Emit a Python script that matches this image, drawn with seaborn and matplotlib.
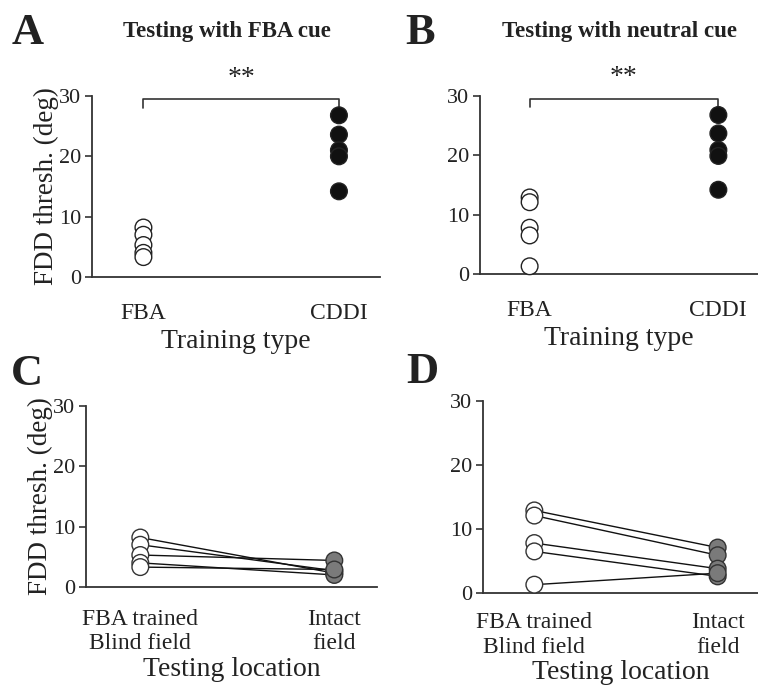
import matplotlib
matplotlib.use("Agg")
import matplotlib.pyplot as plt
import seaborn as sns
import pandas as pd

sns.set_theme(style="white")
plt.rcParams['font.family'] = ['Liberation Serif', 'DejaVu Serif']

# ---------------- data ----------------
training_types = ["FBA", "CDDI"]
locations = ["FBA trained\nBlind field", "Intact\nfield"]
subjects = ["S1", "S2", "S3", "S4", "S5"]

# Panel A: testing with FBA cue
a_fba = [8.2, 7.0, 5.3, 4.0, 3.3]
a_cddi = [26.8, 23.6, 21.0, 20.0, 14.2]
# Panel B: testing with neutral cue
b_fba = [12.9, 12.1, 7.8, 6.5, 1.3]
b_cddi = [26.8, 23.7, 20.9, 19.9, 14.2]
# Panel C: FBA cue, blind vs intact field (paired)
c_blind = [8.2, 7.0, 5.3, 4.0, 3.3]
c_intact = [2.3, 2.7, 4.4, 2.0, 2.9]
# Panel D: neutral cue, blind vs intact field (paired)
d_blind = [12.9, 12.1, 7.8, 6.5, 1.3]
d_intact = [7.1, 5.9, 3.8, 2.6, 3.1]

ylabel = "FDD thresh. (deg)"
yticks = [0, 10, 20, 30]

AX_COL = "#333333"
TXT_COL = "#222222"
GRAY = "#7a7a7a"

W, H = 758, 694
fig = plt.figure(figsize=(W / 100, H / 100), dpi=100)


def fax(l, b, r, t):
    return fig.add_axes([l / W, 1 - b / H, (r - l) / W, (b - t) / H])


def style(ax, xlabel, show_ylabel, xtick_size):
    ax.set_ylim(0, 30)
    ax.set_yticks(yticks)
    ax.set_yticklabels([str(v) for v in yticks])
    sns.despine(ax=ax)
    for s in ["left", "bottom"]:
        ax.spines[s].set_color(AX_COL)
        ax.spines[s].set_linewidth(1.3)
    ax.tick_params(axis="y", left=True, length=5, width=1.2, color=AX_COL,
                   labelsize=16, labelcolor=TXT_COL, pad=3)
    ax.tick_params(axis="x", bottom=False, labelsize=xtick_size,
                   labelcolor=TXT_COL, pad=13)
    ax.set_xlabel(xlabel, fontsize=20, color=TXT_COL, labelpad=3)
    if show_ylabel:
        ax.set_ylabel(ylabel, fontsize=19.5, color=TXT_COL, labelpad=0)
    else:
        ax.set_ylabel("")
    ax.grid(False)
    ax.set_facecolor("white")


def strip_panel(ax, fba_vals, cddi_vals):
    df = pd.DataFrame({
        "type": [training_types[0]] * len(fba_vals) + [training_types[1]] * len(cddi_vals),
        "thr": list(fba_vals) + list(cddi_vals),
    })
    sns.stripplot(data=df, x="type", y="thr", hue="type", order=training_types,
                  palette={training_types[0]: "white", training_types[1]: "#111111"},
                  jitter=False, size=12, linewidth=1, edgecolor="#222222",
                  legend=False, ax=ax, zorder=3, clip_on=False)
    ax.set_xlim(-0.263, 1.21)
    # significance bracket
    top = ax.get_ylim()[1]
    ax.plot([0, 0, len(training_types) - 1, len(training_types) - 1],
            [top, top + 1.5, top + 1.5, top], color=AX_COL, lw=1.2, clip_on=False)
    ax.text((len(training_types) - 1) / 2, top + 5.0, "**", ha="center", va="center",
            fontsize=20, color=TXT_COL)


def paired_panel(ax, blind, intact):
    df = pd.DataFrame({
        "loc": [locations[0]] * len(blind) + [locations[1]] * len(intact),
        "thr": list(blind) + list(intact),
        "subj": subjects[:len(blind)] + subjects[:len(intact)],
    })
    sns.pointplot(data=df, x="loc", y="thr", hue="subj", order=locations,
                  palette=["#111111"] * len(subjects), errorbar=None,
                  markers="none", linestyles="-", linewidth=1.0,
                  legend=False, ax=ax)
    for ln in ax.lines:
        ln.set_zorder(2)
    sns.stripplot(data=df, x="loc", y="thr", hue="loc", order=locations,
                  palette={locations[0]: "white", locations[1]: GRAY},
                  jitter=False, size=12, linewidth=1, edgecolor="#333333",
                  legend=False, ax=ax, zorder=3, clip_on=False)
    ax.set_xlim(-0.28, 1.22)


axA = fax(92, 277, 380, 96)
strip_panel(axA, a_fba, a_cddi)
style(axA, "Training type", True, 17)

axB = fax(480, 274, 758, 96)
strip_panel(axB, b_fba, b_cddi)
style(axB, "Training type", False, 17)

axC = fax(86, 587, 377, 406)
paired_panel(axC, c_blind, c_intact)
style(axC, "Testing location", True, 17)
axC.tick_params(axis="x", pad=10)
axC.xaxis.labelpad = 2

axD = fax(483, 593, 758, 401)
paired_panel(axD, d_blind, d_intact)
style(axD, "Testing location", False, 17)
axD.tick_params(axis="x", pad=8)
axD.xaxis.labelpad = 2

# panel letters and titles
for x, y, s in [(28, 33, "A"), (420, 33, "B"), (27, 374, "C"), (422, 372, "D")]:
    fig.text(x / W, 1 - y / H, s, fontsize=32, fontweight="bold", color=TXT_COL,
             ha="center", va="center")
fig.text(227 / W, 1 - 32 / H, "Testing with FBA cue", fontsize=16.5,
         fontweight="bold", color=TXT_COL, ha="center", va="center")
fig.text(620 / W, 1 - 31 / H, "Testing with neutral cue", fontsize=16.5,
         fontweight="bold", color=TXT_COL, ha="center", va="center")

fig.savefig("out.png", dpi=100, facecolor="white")
